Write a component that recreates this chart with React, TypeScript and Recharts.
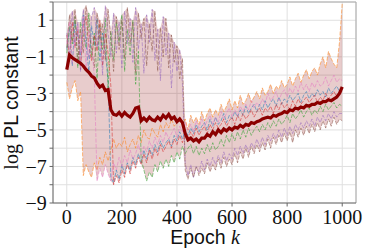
import { Area, CartesianGrid, ComposedChart, Line, ReferenceLine, XAxis, YAxis } from 'recharts'

// epochs sampled every 10 steps
const epochs = [
  0, 10, 20, 30, 40, 50, 60, 70, 80, 90,
  100, 110, 120, 130, 140, 150, 160, 170, 180, 190,
  200, 210, 220, 230, 240, 250, 260, 270, 280, 290,
  300, 310, 320, 330, 340, 350, 360, 370, 380, 390,
  400, 410, 420, 430, 440, 450, 460, 470, 480, 490,
  500, 510, 520, 530, 540, 550, 560, 570, 580, 590,
  600, 610, 620, 630, 640, 650, 660, 670, 680, 690,
  700, 710, 720, 730, 740, 750, 760, 770, 780, 790,
  800, 810, 820, 830, 840, 850, 860, 870, 880, 890,
  900, 910, 920, 930, 940, 950, 960, 970, 980, 990,
  1000,
]

const runOrange = [
  -2.4, -3.3, -2.7, -2.3, -3.4, -2.9, -7.5, -6.9, -7.3, -7.6,
  -6.8, -7.2, -6.5, -6.9, -6.2, -6.7, -6.1, -5.5, -6.0, -5.7,
  -5.9, -5.4, -6.2, -5.8, -5.5, -6.0, -5.3, -5.7, -5.0, -5.4,
  -5.5, -4.9, -5.2, -5.4, -4.7, -5.1, -4.6, -4.9, -4.4, -4.8,
  -4.6, -4.3, -4.8, -4.4, -5.0, -4.2, -4.6, -4.3, -4.7, -4.0,
  -4.5, -4.1, -3.8, -4.3, -3.9, -4.2, -3.6, -4.0, -3.7, -3.3,
  -3.9, -3.4, -3.8, -3.1, -3.6, -3.4, -3.0, -3.5, -3.2, -2.9,
  -3.3, -2.7, -3.1, -2.9, -2.5, -3.0, -2.6, -2.8, -2.3, -2.7,
  -2.5, -2.1, -2.6, -2.2, -1.9, -2.4, -2.0, -1.7, -2.2, -1.8,
  -1.6, -2.0, -1.4, -1.0, -1.6, -0.7, -1.1, -1.4, -1.6, -0.2,
  1.9,
]

const runPink = [
  -0.3, 0.9, -1.4, 0.2, 0.7, -0.8, 1.2, -1.6, 0.4, -0.2,
  -2.1, -7.8, -7.1, -7.6, -6.9, -7.4, -7.8, -6.8, -7.2, -6.5,
  -7.0, -6.4, -6.8, -6.1, -6.6, -6.3, -5.8, -6.4, -5.9, -6.2,
  -5.6, -6.0, -5.4, -5.8, -5.3, -5.7, -5.1, -5.5, -5.2, -4.9,
  -5.4, -4.8, -5.1, -4.6, -5.0, -4.7, -5.1, -4.5, -4.9, -4.4,
  -4.8, -4.5, -4.2, -4.7, -4.3, -4.6, -4.0, -4.4, -4.1, -3.8,
  -4.3, -3.9, -4.2, -3.7, -4.0, -3.6, -3.9, -3.4, -3.8, -3.5,
  -3.7, -3.3, -3.6, -3.0, -3.4, -3.2, -2.9, -3.4, -3.0, -2.8,
  -3.2, -2.7, -3.0, -2.6, -2.9, -2.4, -2.8, -2.5, -2.9, -2.4,
  -2.7, -2.3, -2.6, -2.5, -2.1, -2.6, -2.3, -2.0, -2.4, -2.2,
  -2.3,
]

const runBlue = [
  -0.6, 0.6, -1.5, 0.9, 0.1, -0.9, 1.3, -0.3, -1.8, 0.7,
  -0.4, 1.1, -1.2, 0.3, -0.7, -2.3, -7.6, -7.9, -7.2, -7.7,
  -6.9, -7.4, -6.8, -7.2, -6.5, -6.9, -6.3, -6.8, -6.1, -6.6,
  -6.0, -6.4, -5.8, -6.2, -5.6, -6.0, -5.7, -5.5, -5.9, -5.3,
  -5.6, -5.1, -5.5, -5.0, -5.3, -4.9, -5.2, -4.7, -5.1, -4.8,
  -4.6, -5.0, -4.4, -4.8, -4.3, -4.7, -4.5, -4.1, -4.6, -4.2,
  -4.4, -4.0, -4.3, -3.9, -4.2, -3.7, -4.1, -3.8, -3.6, -4.0,
  -3.6, -3.9, -3.4, -3.8, -3.5, -3.3, -3.7, -3.2, -3.6, -3.3,
  -3.5, -3.1, -3.4, -3.2, -3.0, -3.5, -3.1, -2.9, -3.3, -3.0,
  -3.2, -2.8, -3.1, -2.9, -3.2, -2.7, -3.0, -2.8, -2.6, -2.9,
  -2.7,
]

const runRed = [
  0.2, -1.1, 0.9, -0.5, 0.5, -1.7, 0.7, 1.2, -0.4, -1.2,
  0.2, -0.7, 1.0, -1.5, 0.3, -0.8, -2.6, -8.0, -7.5, -7.9,
  -7.2, -7.6, -6.9, -7.4, -6.7, -7.1, -6.5, -6.9, -6.3, -6.8,
  -6.1, -6.6, -6.0, -6.4, -5.8, -6.2, -5.9, -5.6, -6.0, -5.5,
  -5.8, -5.3, -5.7, -5.2, -5.5, -5.1, -5.4, -4.9, -5.3, -5.0,
  -4.8, -5.2, -4.7, -5.0, -4.6, -4.9, -4.7, -4.4, -4.8, -4.5,
  -4.3, -4.7, -4.2, -4.5, -4.1, -4.4, -4.2, -3.9, -4.3, -4.0,
  -3.8, -4.2, -3.8, -4.0, -3.7, -4.1, -3.6, -3.9, -3.5, -3.8,
  -3.6, -3.9, -3.4, -3.7, -3.3, -3.6, -3.4, -3.2, -3.5, -3.3,
  -3.1, -3.5, -3.2, -3.4, -3.0, -3.3, -3.1, -2.9, -3.2, -3.0,
  -2.9,
]

const runGreen = [
  -0.8, 0.7, -0.3, 1.2, -1.6, 0.9, 0.2, -0.5, 1.4, -1.0,
  0.3, -2.2, 0.8, -0.6, 1.1, -2.8, 0.4, -1.2, 0.9, -0.2,
  1.3, -1.8, 0.5, -0.9, 1.0, -2.5, -0.7, -6.6, -7.2, -7.8,
  -7.3, -7.6, -6.9, -7.3, -6.7, -7.1, -6.6, -7.0, -6.4, -6.8,
  -6.2, -6.6, -5.9, -6.3, -6.0, -5.8, -6.3, -5.9, -6.4, -6.0,
  -6.3, -5.8, -6.2, -5.7, -6.1, -5.9, -5.5, -5.9, -5.3, -5.7,
  -5.2, -5.6, -5.1, -5.5, -5.0, -5.4, -4.9, -5.3, -5.0, -4.8,
  -5.1, -4.7, -5.0, -4.6, -4.9, -4.5, -4.8, -4.4, -4.7, -4.5,
  -4.2, -4.6, -4.1, -4.4, -4.2, -3.9, -4.3, -4.0, -3.8, -4.2,
  -3.9, -4.1, -3.7, -4.0, -3.6, -3.9, -3.7, -3.5, -3.8, -3.6,
  -3.7,
]

const runPurple = [
  0.3, -0.9, 1.5, -0.4, 0.9, -1.8, 1.6, 0.1, -1.1, 1.2,
  1.7, -0.5, 0.6, -2.0, 1.8, 0.3, -1.0, 1.4, -0.8, 0.9,
  -1.6, 1.5, -0.3, 1.1, -1.3, 1.7, -0.6, 0.8, -1.9, 1.3,
  -0.2, 1.6, -1.2, 0.5, -2.3, 1.2, -0.9, 0.3, -2.7, -0.2,
  -1.8, -0.6, -2.5, -6.8, -7.5, -6.9, -7.6, -7.0, -7.3, -6.7,
  -7.2, -6.6, -7.0, -6.5, -6.9, -6.4, -6.8, -6.2, -6.7, -6.3,
  -6.6, -6.0, -6.4, -5.9, -6.3, -5.8, -6.2, -5.7, -6.0, -5.5,
  -5.9, -5.4, -5.8, -5.3, -5.6, -5.2, -5.5, -5.0, -5.4, -4.9,
  -5.3, -4.8, -5.2, -4.7, -5.0, -4.6, -4.9, -4.5, -4.8, -4.4,
  -4.8, -4.3, -4.6, -4.2, -4.5, -4.1, -4.4, -4.0, -4.3, -4.1,
  -4.1,
]

const runBrown = [
  -0.5, 1.3, -0.2, 1.6, -1.3, 0.5, -0.8, 1.8, 0.4, -0.5,
  -1.6, 1.4, -0.1, 0.8, -1.2, 1.6, 0.1, -1.8, 1.2, -0.6,
  1.0, -1.1, 1.7, -0.3, 0.9, -1.9, 1.4, 0.0, 1.1, -1.5,
  0.8, -0.7, 1.5, -1.8, 0.6, -1.0, 1.1, -1.6, 0.2, -1.3,
  -0.4, -2.2, -1.1, -7.2, -7.7, -7.1, -7.6, -7.0, -7.5, -7.1,
  -7.4, -6.8, -7.3, -6.9, -7.2, -6.6, -7.1, -6.5, -7.0, -6.6,
  -6.9, -6.3, -6.8, -6.2, -6.6, -6.0, -6.5, -5.9, -6.3, -5.8,
  -6.2, -5.7, -6.1, -5.5, -6.0, -5.4, -5.8, -5.3, -5.7, -5.2,
  -5.6, -5.1, -5.7, -5.0, -5.4, -4.9, -5.3, -4.8, -5.2, -4.7,
  -5.1, -4.6, -5.0, -4.5, -4.9, -4.4, -4.8, -4.3, -4.7, -4.4,
  -4.5,
]

const meanRun = [
  -1.7, -0.9, -1.05, -1.15, -1.25, -1.35, -1.5, -1.7, -1.85, -2.05,
  -2.15, -2.45, -2.65, -2.55, -2.85, -2.8, -3.9, -4.15, -4.2, -4.05,
  -4.25, -4.05, -4.2, -4.3, -4.1, -3.8, -3.75, -4.5, -4.35, -4.5,
  -4.3, -4.45, -4.5, -4.3, -4.45, -4.2, -4.35, -4.15, -4.4, -4.3,
  -4.55, -4.4, -4.6, -5.2, -5.55, -5.45, -5.6, -5.5, -5.65, -5.45,
  -5.45, -5.25, -5.35, -5.1, -5.25, -5.0, -5.15, -4.95, -5.05, -4.9,
  -5.0, -4.85, -4.9, -4.75, -4.85, -4.7, -4.75, -4.6, -4.65, -4.55,
  -4.5, -4.4, -4.35, -4.3, -4.35, -4.2, -4.25, -4.15, -4.1, -4.0,
  -4.05, -3.9, -3.95, -3.8, -3.85, -3.75, -3.8, -3.65, -3.7, -3.6,
  -3.6, -3.5, -3.55, -3.45, -3.45, -3.35, -3.4, -3.3, -3.2, -3.0,
  -2.65,
]

const xTicks = [0, 200, 400, 600, 800, 1000]
const yTicks = [-9, -8, -7, -6, -5, -4, -3, -2, -1, 0, 1, 2]

const runs = [
  { key: 'blue', values: runBlue, color: '#1f77b4' },
  { key: 'orange', values: runOrange, color: '#ff7f0e' },
  { key: 'green', values: runGreen, color: '#2ca02c' },
  { key: 'red', values: runRed, color: '#d62728' },
  { key: 'purple', values: runPurple, color: '#9467bd' },
  { key: 'brown', values: runBrown, color: '#8c564b' },
  { key: 'pink', values: runPink, color: '#e377c2' },
]

const data = epochs.map((epoch, i) => {
  const row: Record<string, any> = { epoch, mean: meanRun[i] }
  const vals = runs.map((r) => r.values[i])
  runs.forEach((r) => {
    row[r.key] = r.values[i]
  })
  row.band = [Math.min(...vals), Math.max(...vals)]
  return row
})

const fmt = (v: number) => (v < 0 ? `\u2212${Math.abs(v)}` : `${v}`)

const serif = '"Liberation Serif", "DejaVu Serif", serif'
const sans = '"Liberation Sans", Arial, sans-serif'

function YTick(props: any) {
  const { x, y, payload } = props
  if (Math.abs(payload.value) % 2 === 0) return <g />
  return (
    <text x={x} y={y} dy="0.36em" textAnchor="end" fontFamily={serif} fontSize={20} fill="#111">
      {fmt(payload.value)}
    </text>
  )
}

export default function App() {
  return (
    <div style={{ position: 'absolute', left: 0, top: 0, width: 365, height: 251, background: '#fff' }}>
      <ComposedChart width={365} height={251} data={data} margin={{ top: 2, right: 9, bottom: 0, left: 0 }}>
        <CartesianGrid stroke="#e0e0e0" strokeWidth={1} />
        <XAxis
          dataKey="epoch"
          type="number"
          domain={[-50, 1050]}
          ticks={xTicks}
          height={48}
          stroke="#666"
          tickSize={3.5}
          tickMargin={3.3}
          tick={{ fontFamily: serif, fontSize: 20, fill: '#111' }}
        />
        <YAxis
          type="number"
          domain={[-9, 2]}
          ticks={yTicks}
          width={53}
          stroke="#666"
          tickSize={3.5}
          tickMargin={2.8}
          tick={YTick}
          interval={0}
        />
        <Area dataKey="band" type="linear" fill="#8B0000" fillOpacity={0.2} stroke="none" isAnimationActive={false} />
        {runs.map((r) => (
          <Line
            key={r.key}
            dataKey={r.key}
            type="linear"
            stroke={r.color}
            strokeWidth={0.9}
            strokeOpacity={0.6}
            strokeDasharray="4 1.5"
            dot={false}
            isAnimationActive={false}
          />
        ))}
        <Line dataKey="mean" type="linear" stroke="#8B0000" strokeWidth={3.2} dot={false} isAnimationActive={false} />
        <ReferenceLine y={2} stroke="#aaa" strokeWidth={1} />
        <ReferenceLine x={1050} stroke="#aaa" strokeWidth={1} />
      </ComposedChart>
      <svg width={365} height={251} style={{ position: 'absolute', left: 0, top: 0, pointerEvents: 'none' }}>
        <text transform="translate(18,103) rotate(-90)" textAnchor="middle" fontSize={20} fill="#111">
          <tspan fontFamily={serif}>log</tspan>
          <tspan fontFamily={sans} fontSize={19.5}> PL constant</tspan>
        </text>
        <text x={205} y={244} textAnchor="middle" fontSize={19.5} fill="#111">
          <tspan fontFamily={sans}>Epoch </tspan>
          <tspan fontFamily={serif} fontStyle="italic" fontSize={20}>k</tspan>
        </text>
      </svg>
    </div>
  )
}
